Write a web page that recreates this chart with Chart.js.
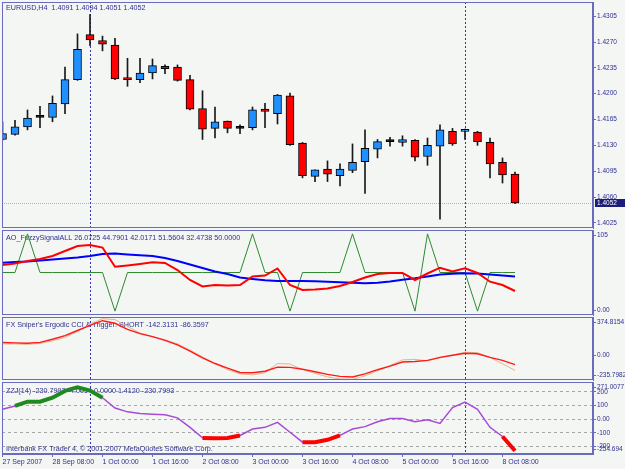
<!DOCTYPE html>
<html>
<head>
<meta charset="utf-8">
<title>EURUSD,H4</title>
<script src="https://cdn.jsdelivr.net/npm/chart.js@4.4.1/dist/chart.umd.min.js"></script>
<style>
  html, body { margin: 0; padding: 0; background: #f4f6f4; }
  #wrap { position: relative; width: 625px; height: 469px; overflow: hidden; background: #f4f6f4; }
  .pane { position: absolute; left: 0; width: 625px; }
  canvas { display: block; }
</style>
</head>
<body>
<div id="wrap">
  <div class="pane" style="top:0;height:229px"><canvas id="price"></canvas></div>
  <div class="pane" style="top:229px;height:87px"><canvas id="ao"></canvas></div>
  <div class="pane" style="top:316px;height:65px"><canvas id="sniper"></canvas></div>
  <div class="pane" style="top:381px;height:88px"><canvas id="zzj"></canvas></div>
</div>
<script>
// EURUSD H4 candles, oldest first
const opens  = [1.4138,1.4145,1.4155,1.4168,1.4168,1.4186,1.4219,1.4280,1.4272,1.4266,1.4222,1.4219,1.4228,1.4237,1.4236,1.4219,1.4180,1.4153,1.4163,1.4153,1.4154,1.4179,1.4173,1.4197,1.4133,1.4088,1.4098,1.4089,1.4096,1.4108,1.4125,1.4135,1.4134,1.4137,1.4115,1.4129,1.4149,1.4149,1.4148,1.4134,1.4107,1.4091];
const highs  = [1.4162,1.4164,1.4178,1.4183,1.4197,1.4236,1.4281,1.4307,1.4278,1.4275,1.4248,1.4248,1.4247,1.4239,1.4239,1.4225,1.4204,1.4182,1.4163,1.4158,1.4182,1.4187,1.4199,1.4201,1.4134,1.4097,1.4109,1.4105,1.4132,1.4151,1.4138,1.4141,1.4143,1.4138,1.4140,1.4158,1.4153,1.4152,1.4149,1.4140,1.4113,1.4094];
const lows   = [1.4137,1.4144,1.4151,1.4154,1.4162,1.4173,1.4218,1.4265,1.4258,1.4219,1.4210,1.4215,1.4220,1.4227,1.4217,1.4178,1.4138,1.4140,1.4147,1.4146,1.4151,1.4154,1.4159,1.4130,1.4086,1.4081,1.4081,1.4075,1.4093,1.4065,1.4113,1.4129,1.4129,1.4109,1.4103,1.4030,1.4130,1.4138,1.4130,1.4086,1.4079,1.4051];
const closes = [1.4146,1.4155,1.4167,1.4168,1.4187,1.4219,1.4260,1.4273,1.4267,1.4220,1.4219,1.4228,1.4238,1.4234,1.4218,1.4179,1.4152,1.4162,1.4153,1.4153,1.4178,1.4176,1.4198,1.4131,1.4089,1.4097,1.4091,1.4098,1.4107,1.4126,1.4135,1.4135,1.4138,1.4114,1.4130,1.4151,1.4132,1.4150,1.4135,1.4105,1.4090,1.4052];

const priceTicks = [1.4305,1.4270,1.4235,1.4200,1.4165,1.4130,1.4095,1.4060,1.4025];
const priceMin = 1.40181, priceMax = 1.43242;
const bid = 1.4052;

// time axis labels, one every 4 bars
const timeBars   = [0,4,8,12,16,20,24,28,32,36,40];
const timeLabels = ['27 Sep 2007','28 Sep 08:00','1 Oct 00:00','1 Oct 16:00','2 Oct 08:00','3 Oct 00:00','3 Oct 16:00','4 Oct 08:00','5 Oct 00:00','5 Oct 16:00','8 Oct 08:00'];
const markBars = [7, 37];

// AO_FuzzySignalALL
const aoRed   = [59.7,61.6,64.9,67.5,71.3,77.8,84.3,85.6,82.3,57.5,59.1,61.0,63.2,62.3,53.2,40.3,31.9,33.8,33.2,33.8,44.8,46.1,55.2,33.8,27.4,28.0,29.3,32.5,37.7,43.5,48.1,49.4,49.4,40.3,48.7,56.2,51.3,55.4,49.4,38.1,33.8,26.07];
const aoBlue  = [62.7,63.6,64.2,65.5,66.8,68.1,69.4,71.3,73.9,74.6,73.3,72.3,71.3,68.8,64.9,60.3,55.8,51.3,48.1,43.5,41.6,39.9,39.0,39.0,39.0,38.8,38.1,37.3,36.7,36.0,36.8,38.4,40.6,42.5,44.8,47.4,48.3,49.0,48.7,47.4,46.1,44.79];
const aoGreen = [50,50,100,50,50,50,50,50,50,0,50,50,50,50,50,50,50,50,50,50,100,50,50,0,50,50,50,50,100,50,50,50,50,0,100,50,50,50,0,50,50,50];

// FX Sniper's Ergodic CCI & Trigger
const cciMain = [127,124,121,129,159,194,244,294,339,314,254,214,184,149,104,44,-21,-76,-121,-163,-166,-151,-111,-113,-131,-156,-181,-201,-206,-176,-136,-101,-61,-56,-46,-16,4,24,19,-16,-46,-86.36];
const cciTrig = [114,114,109,119,144,179,234,304,359,349,284,219,184,154,114,54,-11,-76,-136,-176,-186,-166,-76,-81,-136,-171,-206,-226,-229,-196,-146,-96,-41,-36,-51,-21,4,34,29,-16,-79,-142.31];

// ZZJ(14)
const zzj = [72,96,127,127,156,206,233,209,156,81,53,41,36,32,9,-60,-137,-139,-137,-119,-72,-60,-24,-96,-168,-168,-151,-119,-72,-55,-19,5,5,-19,-4,-31,84,125,72,-60,-127,-230.8];
const zzjUpLegs = [[1,8]];
const zzjDownLegs = [[16,19],[24,27],[40,41]];
const zzjTicks = [200,100,0,-100,-200];

const FONT = "'Liberation Sans', Arial, sans-serif";
const INK = '#2e2e90';
const FRAME = '#6a6abf';
const BG = '#f4f6f4';
const xMin = -0.04, xMax = 47.24;

const toXY = arr => arr.map((v, i) => ({x: i, y: v}));
const legs = (arr, list) => arr.map((v, i) => ({x: i, y: list.some(([a, b]) => i >= a && i <= b) ? v : null}));

const decor = {
  id: 'decor',
  beforeDraw(chart) {
    const ctx = chart.ctx;
    ctx.save();
    ctx.fillStyle = BG;
    ctx.fillRect(0, 0, chart.width, chart.height);
    ctx.restore();
  },
  beforeDatasetsDraw(chart, args, opts) {
    const {ctx, chartArea: a, scales} = chart;
    ctx.save();
    if (opts.bid != null) {
      const py = Math.round(scales.y.getPixelForValue(opts.bid)) + 0.5;
      ctx.strokeStyle = '#c9a3c9';
      ctx.setLineDash([1, 1]);
      ctx.beginPath(); ctx.moveTo(a.left, py); ctx.lineTo(a.right, py); ctx.stroke();
    }
    ctx.strokeStyle = '#3434a4';
    ctx.setLineDash([2, 2]);
    ctx.lineWidth = 1;
    for (const b of markBars) {
      const x = Math.round(scales.x.getPixelForValue(b)) + 0.5;
      ctx.beginPath(); ctx.moveTo(x, a.top); ctx.lineTo(x, a.bottom); ctx.stroke();
    }
    ctx.setLineDash([]);
    ctx.fillStyle = INK;
    ctx.font = '7.2px ' + FONT;
    ctx.textBaseline = 'middle';
    ctx.textAlign = 'left';
    for (const c of opts.captions || []) {
      const ty = c.fromBottom ? a.bottom - c.dy : a.top + c.dy;
      ctx.fillText(c.text, a.left + 4, ty);
    }
    ctx.restore();
  },
  afterDraw(chart, args, opts) {
    const {ctx, chartArea: a, scales} = chart;
    ctx.save();
    ctx.strokeStyle = FRAME;
    ctx.lineWidth = 1;
    ctx.strokeRect(a.left + 0.5, a.top + 0.5, a.right - a.left - 1, a.bottom - a.top - 1);
    ctx.fillStyle = INK;
    ctx.font = '6.5px ' + FONT;
    ctx.textBaseline = 'middle';
    ctx.textAlign = 'left';
    for (const e of opts.edges || []) {
      const py = Math.min(Math.max(scales.y.getPixelForValue(e.value), a.top + 5), a.bottom - 5);
      ctx.beginPath(); ctx.moveTo(a.right, Math.round(py) + 0.5); ctx.lineTo(a.right + 3, Math.round(py) + 0.5); ctx.stroke();
      ctx.fillText(e.text, a.right + 4, py);
    }
    if (opts.bid != null) {
      const py = scales.y.getPixelForValue(opts.bid);
      ctx.fillStyle = '#1c1c7a';
      ctx.fillRect(a.right + 2, Math.round(py) - 4, chart.width - a.right - 2, 8);
      ctx.fillStyle = '#ffffff';
      ctx.fillText(opts.bid.toFixed(4), a.right + 4, py);
    }
    ctx.restore();
  }
};

function yAxis(extra) {
  return Object.assign({
    position: 'right',
    afterFit: s => { s.width = 32; s.paddingTop = 0; s.paddingBottom = 0; },
    ticks: { font: {family: FONT, size: 6.5}, color: INK, padding: 1, autoSkip: false },
    grid: { drawOnChartArea: false, drawTicks: true, tickLength: 3, color: FRAME, tickColor: FRAME },
    border: { color: FRAME }
  }, extra);
}
const hiddenX = { type: 'linear', display: false, min: xMin, max: xMax, offset: false, grid: {offset: false} };
const base = {
  animation: false,
  responsive: true,
  maintainAspectRatio: false,
  events: [],
  devicePixelRatio: 1
};

// price pane
new Chart('price', {
  type: 'bar',
  plugins: [decor],
  data: {
    datasets: [
      {
        data: opens.map((o, i) => ({x: i, y: [o, closes[i]]})),
        backgroundColor: opens.map((o, i) => closes[i] > o ? '#1e90ff' : closes[i] < o ? '#ff0000' : '#000000'),
        borderColor: '#000000', borderWidth: 1, borderSkipped: false,
        barThickness: 8, minBarLength: 2, grouped: false
      },
      {
        data: lows.map((l, i) => ({x: i, y: [l, highs[i]]})),
        backgroundColor: '#1a1a1a', borderWidth: 0,
        barThickness: 1, grouped: false
      }
    ]
  },
  options: Object.assign({}, base, {
    layout: { padding: {left: 2, top: 2, bottom: 1, right: 0} },
    scales: {
      x: hiddenX,
      y: yAxis({
        min: priceMin, max: priceMax,
        afterBuildTicks: s => { s.ticks = priceTicks.map(value => ({value})); },
        ticks: { font: {family: FONT, size: 6.5}, color: INK, padding: 1, autoSkip: false, callback: v => v.toFixed(4) }
      })
    },
    plugins: {
      legend: {display: false}, tooltip: {enabled: false},
      decor: { bid: bid, captions: [{text: 'EURUSD,H4  1.4091 1.4094 1.4051 1.4052', dy: 6.3}] }
    }
  })
});

// AO_FuzzySignalALL pane
new Chart('ao', {
  type: 'line',
  plugins: [decor],
  data: {
    datasets: [
      { data: toXY(aoRed), borderColor: '#ff0000', borderWidth: 2, pointRadius: 0 },
      { data: toXY(aoBlue), borderColor: '#0000ff', borderWidth: 2, pointRadius: 0 },
      { data: toXY(aoGreen), borderColor: '#2e8b2e', borderWidth: 1, pointRadius: 0 }
    ]
  },
  options: Object.assign({}, base, {
    layout: { padding: {left: 2, top: 1, bottom: 1, right: 0} },
    scales: {
      x: hiddenX,
      y: yAxis({ min: -5, max: 105, ticks: {display: false}, grid: {display: false} })
    },
    plugins: {
      legend: {display: false}, tooltip: {enabled: false},
      decor: {
        captions: [{text: 'AO_FuzzySignalALL 26.0725 44.7901 42.0171 51.5604 32.4738 50.0000', dy: 8.3}],
        edges: [{value: 105, text: '105'}, {value: -5, text: '0.00'}]
      }
    }
  })
});

// FX Sniper's Ergodic CCI pane
new Chart('sniper', {
  type: 'line',
  plugins: [decor],
  data: {
    datasets: [
      { data: toXY(cciMain), borderColor: '#ff1a1a', borderWidth: 1.4, pointRadius: 0 },
      { data: toXY(cciTrig), borderColor: '#e2b48e', borderWidth: 1, pointRadius: 0 }
    ]
  },
  options: Object.assign({}, base, {
    layout: { padding: {left: 2, top: 1, bottom: 1, right: 0} },
    scales: {
      x: hiddenX,
      y: yAxis({
        min: -235.7982, max: 374.8154,
        afterBuildTicks: s => { s.ticks = [{value: 0}]; },
        ticks: { font: {family: FONT, size: 6.5}, color: INK, padding: 1, callback: v => v.toFixed(2) }
      })
    },
    plugins: {
      legend: {display: false}, tooltip: {enabled: false},
      decor: {
        captions: [{text: "FX Sniper's Ergodic CCI & Trigger: SHORT -142.3131 -86.3597", dy: 8}],
        edges: [{value: 374.8154, text: '374.8154'}, {value: -235.7982, text: '-235.7982'}]
      }
    }
  })
});

// ZZJ pane with time axis
new Chart('zzj', {
  type: 'line',
  plugins: [decor],
  data: {
    datasets: [
      { data: legs(zzj, zzjUpLegs), borderColor: '#1f8a1f', borderWidth: 4, pointRadius: 0, spanGaps: false },
      { data: legs(zzj, zzjDownLegs), borderColor: '#ff0000', borderWidth: 4, pointRadius: 0, spanGaps: false },
      { data: toXY(zzj), borderColor: '#a64ad8', borderWidth: 1.5, pointRadius: 0 }
    ]
  },
  options: Object.assign({}, base, {
    layout: { padding: {left: 2, top: 1, bottom: 0, right: 0} },
    scales: {
      x: {
        type: 'linear', min: xMin, max: xMax, offset: false,
        afterBuildTicks: s => { s.ticks = timeBars.map(value => ({value})); },
        afterFit: s => { s.height = 15; s.paddingLeft = 0; s.paddingRight = 0; },
        ticks: {
          font: {family: FONT, size: 7}, color: INK, padding: 1, align: 'start',
          autoSkip: false, maxRotation: 0, callback: (v, i) => timeLabels[i]
        },
        grid: { drawOnChartArea: false, drawTicks: true, tickLength: 3, color: FRAME, tickColor: FRAME, offset: false },
        border: { color: FRAME }
      },
      y: yAxis({
        min: -254.694, max: 271.0077,
        afterBuildTicks: s => { s.ticks = zzjTicks.map(value => ({value})); },
        ticks: { font: {family: FONT, size: 6.5}, color: INK, padding: 1, autoSkip: false, callback: v => v === 0 ? '0.00' : String(v) },
        grid: { drawOnChartArea: true, drawTicks: true, tickLength: 3, color: '#a6a6a6', tickColor: FRAME },
        border: { color: FRAME, dash: [3, 3] }
      })
    },
    plugins: {
      legend: {display: false}, tooltip: {enabled: false},
      decor: {
        captions: [
          {text: 'ZZJ(14) -230.7993 -4.0054 0.0000 1.4120 -230.7993', dy: 9},
          {text: 'Interbank FX Trader 4, \u00a9 2001-2007 MetaQuotes Software Corp.', dy: 5, fromBottom: true}
        ],
        edges: [{value: 271.0077, text: '271.0077'}, {value: -254.694, text: '-254.694'}]
      }
    }
  })
});
</script>
</body>
</html>
